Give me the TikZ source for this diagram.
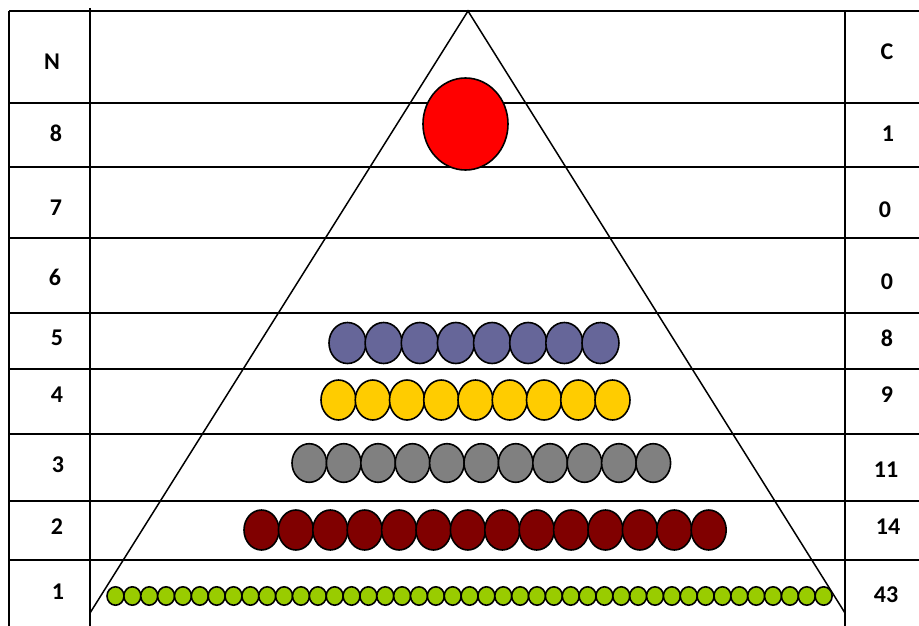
\documentclass[tikz,border=0pt]{standalone}
\usepackage{fontspec}
\setmainfont{Carlito}
\usepackage{xcolor}
\usetikzlibrary{positioning}
\definecolor{beadred}{RGB}{255,0,0}
\definecolor{beadpurple}{RGB}{102,102,153}
\definecolor{beadyellow}{RGB}{255,204,0}
\definecolor{beadgray}{RGB}{128,128,128}
\definecolor{beadmaroon}{RGB}{128,0,0}
\definecolor{beadgreen}{RGB}{153,204,0}

\begin{document}
\begin{tikzpicture}[x=1pt, y=-1pt,
    grid/.style={line width=1.8pt},
    lbl/.style={inner sep=0pt, anchor=center, font=\fontsize{24pt}{28pt}\selectfont\bfseries},
    bead/.style={draw, line width=1.6pt, fill=#1}]
        \useasboundingbox (0,0) rectangle (919,626);

        % Table rules (rows and the two side columns)
        \foreach \y in {11,103,167,238,313,369,434,501,560}
            \draw[grid] (9,\y) -- (919,\y);
        \draw[grid] (9,11) -- (9,626);
        \draw[grid] (90,8) -- (90,626);
        \draw[grid] (845,11) -- (845,626);

        % Pyramid
        \coordinate (apex) at (468,11);
        \coordinate (baseL) at (90,613);
        \coordinate (baseR) at (845,613);
        \draw[line width=1.5pt] (baseL) -- (apex) -- (baseR);

        % Level 8: one big bead
        \draw[bead=beadred] (465.5,124) ellipse [x radius=42.5, y radius=46];

        % Level 5 to level 1: rows of beads
        \foreach \i in {0,...,7}
            \draw[bead=beadpurple] ({347.5+36.14*\i},343) ellipse [x radius=18.5, y radius=20.5];
        \foreach \i in {0,...,8}
            \draw[bead=beadyellow] ({338.5+34.25*\i},400) ellipse [x radius=17.5, y radius=20];
        \foreach \i in {0,...,10}
            \draw[bead=beadgray] ({309.3+34.4*\i},463) ellipse [x radius=17.3, y radius=19.3];
        \foreach \i in {0,...,13}
            \draw[bead=beadmaroon] ({261.5+34.4*\i},530) ellipse [x radius=17.5, y radius=20];
        \foreach \i in {0,...,42}
            \draw[bead=beadgreen] ({115.5+16.86*\i},596) ellipse [x radius=8.5, y radius=9.2];

        % Left column: N
        \node[lbl] (headN) at (52,62) {N};
        \node[lbl] (n8) at (56,133) {8};
        \node[lbl] (n7) at (56,208) {7};
        \node[lbl] (n6) at (55,277) {6};
        \node[lbl] (n5) at (57,338) {5};
        \node[lbl] (n4) at (57,395) {4};
        \node[lbl] (n3) at (58,465) {3};
        \node[lbl] (n2) at (57,527) {2};
        \node[lbl] (n1) at (58,592) {1};

        % Right column: C
        \node[lbl] (headC) at (887,52) {C};
        \node[lbl] (c8) at (888,134) {1};
        \node[lbl] (c7) at (885,210) {0};
        \node[lbl] (c6) at (887,282) {0};
        \node[lbl] (c5) at (887,338) {8};
        \node[lbl] (c4) at (887,395) {9};
        \node[lbl] (c3) at (886,470) {11};
        \node[lbl] (c2) at (888,527) {14};
        \node[lbl] (c1) at (886,595) {43};
    \end{tikzpicture}
\end{document}
